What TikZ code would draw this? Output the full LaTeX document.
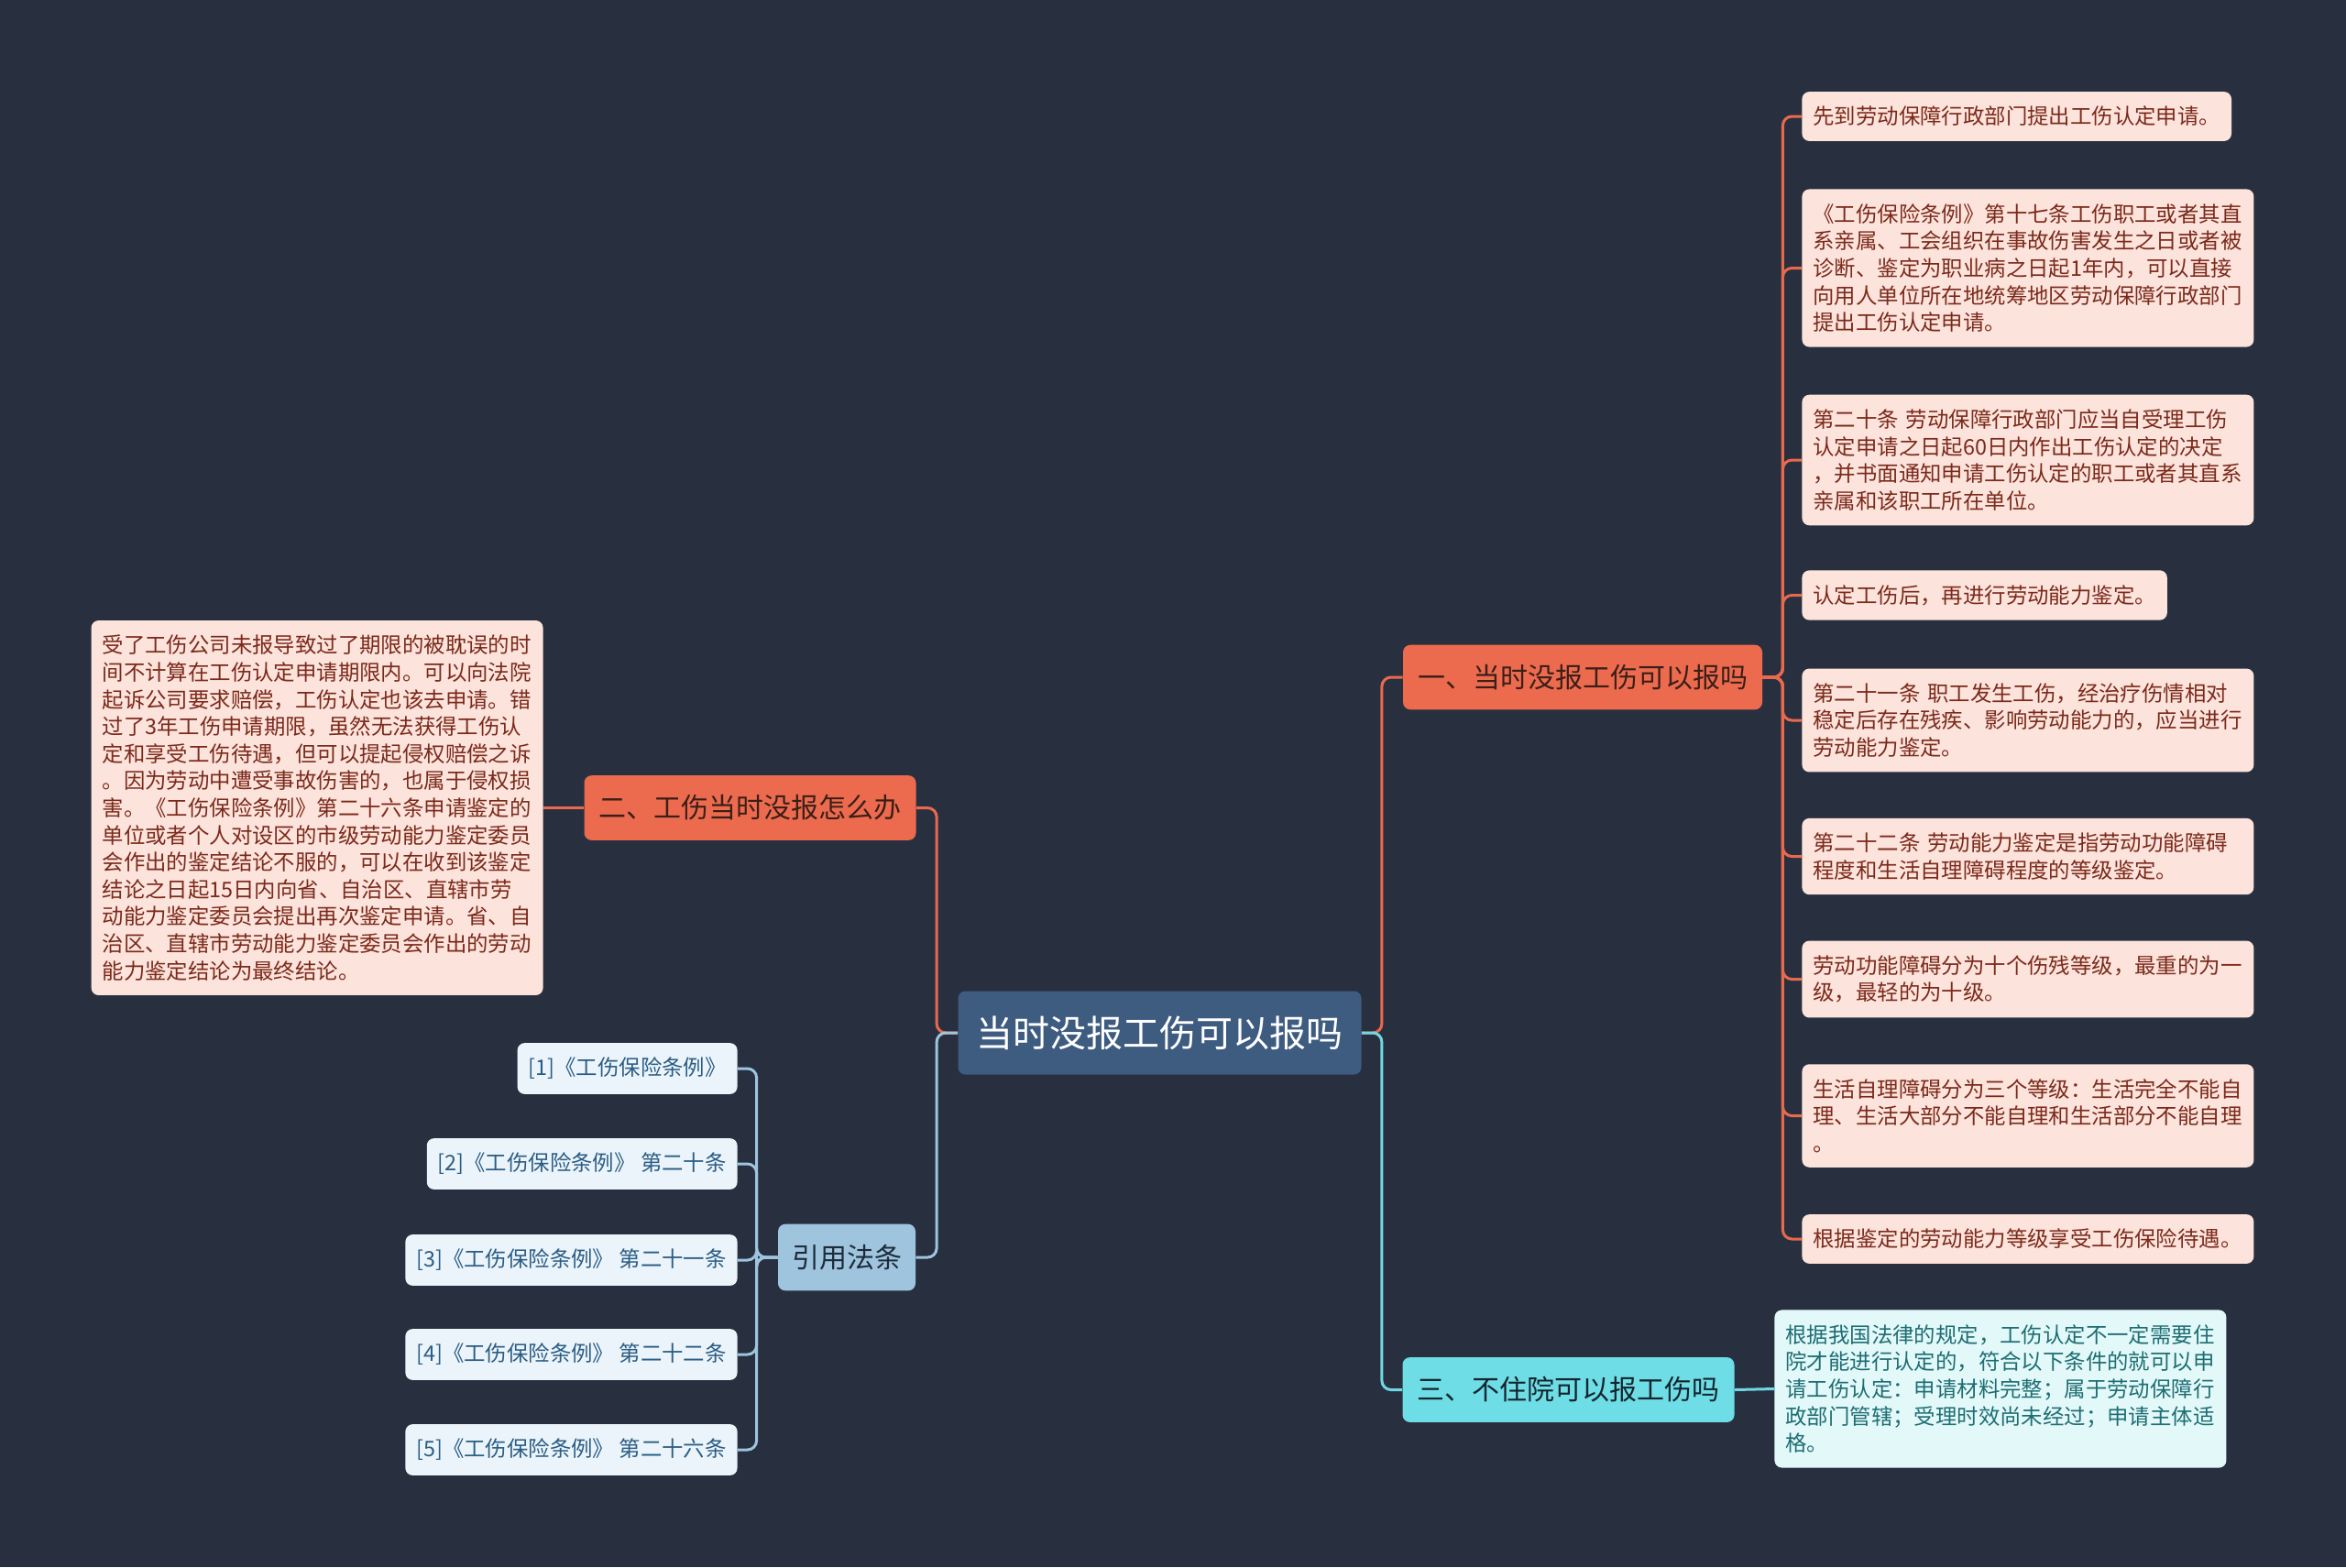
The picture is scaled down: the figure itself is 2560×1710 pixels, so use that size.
\documentclass[tikz,border=0pt]{standalone}
\usepackage{fontspec}
\setmainfont{Noto Sans CJK SC}
\usetikzlibrary{positioning}
\definecolor{bg}{HTML}{283040}
\definecolor{rootfill}{HTML}{3E5B80}
\definecolor{coral}{HTML}{EC6B4F}
\definecolor{coralline}{HTML}{E9694C}
\definecolor{pinkfill}{HTML}{FCE3DB}
\definecolor{pinktext}{HTML}{7B2A1C}
\definecolor{coraltext}{HTML}{3B1F17}
\definecolor{cyanfill}{HTML}{6EDDE6}
\definecolor{cyanline}{HTML}{6FD8E2}
\definecolor{icefill}{HTML}{E3F8F9}
\definecolor{icetext}{HTML}{1D6E73}
\definecolor{cyantext}{HTML}{14252E}
\definecolor{steelfill}{HTML}{9EC4DE}
\definecolor{steeltext}{HTML}{1E2B3A}
\definecolor{reffill}{HTML}{EBF4FA}
\definecolor{reftext}{HTML}{2B5D84}

\begin{document}
\begin{tikzpicture}[x=0.5pt,y=-0.5pt,
  rootbox/.style={fill=rootfill,text=white,rounded corners=4pt,inner xsep=10pt,inner ysep=13.5pt,font=\fontsize{20pt}{24pt}\selectfont},
  mainbox/.style={rounded corners=4pt,inner xsep=8pt,inner ysep=10.7pt,font=\fontsize{15pt}{18pt}\selectfont},
  leafbox/.style={rounded corners=4pt,inner xsep=6pt,inner ysep=8pt,align=left,font=\fontsize{11.7pt}{14.8pt}\selectfont},
  pinkleaf/.style={leafbox,fill=pinkfill,text=pinktext},
  wideleaf/.style={pinkleaf,text width=234.5pt},
  iceleaf/.style={leafbox,fill=icefill,text=icetext,text width=234.5pt},
  refbox/.style={leafbox,fill=reffill,text=reftext},
  link/.style={line width=1.5pt,rounded corners=5pt}]
  \fill[bg] (0,0) rectangle (2560,1710);
  \useasboundingbox (0,0) rectangle (2560,1710);

  \node[rootbox] (root) at (1265.5,1127) {当时没报工伤可以报吗};
  \node[mainbox,fill=coral,text=coraltext] (one) at (1727,739) {一、当时没报工伤可以报吗};
  \node[mainbox,fill=coral,text=coraltext] (two) at (818.5,881.5) {二、工伤当时没报怎么办};
  \node[mainbox,fill=cyanfill,text=cyantext] (three) at (1711.5,1516.5) {三、不住院可以报工伤吗};
  \node[mainbox,fill=steelfill,text=steeltext,inner xsep=7.5pt,inner ysep=11.2pt] (cite) at (924,1372) {引用法条};

  \node[pinkleaf,anchor=west] (a1) at (1966,127) {先到劳动保障行政部门提出工伤认定申请。};
  \node[wideleaf,anchor=west] (a2) at (1966,292.5) {《工伤保险条例》第十七条工伤职工或者其直\\系亲属、工会组织在事故伤害发生之日或者被\\诊断、鉴定为职业病之日起1年内，可以直接\\向用人单位所在地统筹地区劳动保障行政部门\\提出工伤认定申请。};
  \node[wideleaf,anchor=west] (a3) at (1966,502) {第二十条 劳动保障行政部门应当自受理工伤\\认定申请之日起60日内作出工伤认定的决定\\，并书面通知申请工伤认定的职工或者其直系\\亲属和该职工所在单位。};
  \node[pinkleaf,anchor=west] (a4) at (1966,649.5) {认定工伤后，再进行劳动能力鉴定。};
  \node[wideleaf,anchor=west] (a5) at (1966,786) {第二十一条 职工发生工伤，经治疗伤情相对\\稳定后存在残疾、影响劳动能力的，应当进行\\劳动能力鉴定。};
  \node[wideleaf,anchor=west] (a6) at (1966,934.5) {第二十二条 劳动能力鉴定是指劳动功能障碍\\程度和生活自理障碍程度的等级鉴定。};
  \node[wideleaf,anchor=west] (a7) at (1966,1068.5) {劳动功能障碍分为十个伤残等级，最重的为一\\级，最轻的为十级。};
  \node[wideleaf,anchor=west] (a8) at (1966,1217.5) {生活自理障碍分为三个等级：生活完全不能自\\理、生活大部分不能自理和生活部分不能自理\\。};
  \node[wideleaf,anchor=west] (a9) at (1966,1352) {根据鉴定的劳动能力等级享受工伤保险待遇。};

  \node[wideleaf,anchor=east] (b1) at (593,881.5) {受了工伤公司未报导致过了期限的被耽误的时\\间不计算在工伤认定申请期限内。可以向法院\\起诉公司要求赔偿，工伤认定也该去申请。错\\过了3年工伤申请期限，虽然无法获得工伤认\\定和享受工伤待遇，但可以提起侵权赔偿之诉\\。因为劳动中遭受事故伤害的，也属于侵权损\\害。《工伤保险条例》第二十六条申请鉴定的\\单位或者个人对设区的市级劳动能力鉴定委员\\会作出的鉴定结论不服的，可以在收到该鉴定\\结论之日起15日内向省、自治区、直辖市劳\\动能力鉴定委员会提出再次鉴定申请。省、自\\治区、直辖市劳动能力鉴定委员会作出的劳动\\能力鉴定结论为最终结论。};

  \node[iceleaf,anchor=west] (c1) at (1936,1515.5) {根据我国法律的规定，工伤认定不一定需要住\\院才能进行认定的，符合以下条件的就可以申\\请工伤认定：申请材料完整；属于劳动保障行\\政部门管辖；受理时效尚未经过；申请主体适\\格。};

  \node[refbox,anchor=east] (r1) at (805,1166) {[1]《工伤保险条例》};
  \node[refbox,anchor=east] (r2) at (805,1270) {[2]《工伤保险条例》 第二十条};
  \node[refbox,anchor=east] (r3) at (805,1375) {[3]《工伤保险条例》 第二十一条};
  \node[refbox,anchor=east] (r4) at (805,1478) {[4]《工伤保险条例》 第二十二条};
  \node[refbox,anchor=east] (r5) at (805,1582) {[5]《工伤保险条例》 第二十六条};

  % root to main topics
  \draw[link,coralline] (root.east) -- ++(22,0) |- (one.west);
  \draw[link,cyanline] (root.east) -- ++(22,0) |- (three.west);
  \draw[link,coralline] (root.west) -- ++(-23,0) |- (two.east);
  \draw[link,steelfill] (root.west) -- ++(-23,0) |- (cite.east);

  % topic one
  \draw[link,coralline] (one.east) -- ++(22,0) |- (a1.west);
  \draw[link,coralline] (one.east) -- ++(22,0) |- (a2.west);
  \draw[link,coralline] (one.east) -- ++(22,0) |- (a3.west);
  \draw[link,coralline] (one.east) -- ++(22,0) |- (a4.west);
  \draw[link,coralline] (one.east) -- ++(22,0) |- (a5.west);
  \draw[link,coralline] (one.east) -- ++(22,0) |- (a6.west);
  \draw[link,coralline] (one.east) -- ++(22,0) |- (a7.west);
  \draw[link,coralline] (one.east) -- ++(22,0) |- (a8.west);
  \draw[link,coralline] (one.east) -- ++(22,0) |- (a9.west);

  % topics two and three
  \draw[link,coralline] (two.west) -- (b1.east);
  \draw[link,cyanline] (three.east) -- (c1.west);

  % references
  \draw[link,steelfill] (cite.west) -- ++(-23,0) |- (r1.east);
  \draw[link,steelfill] (cite.west) -- ++(-23,0) |- (r2.east);
  \draw[link,steelfill] (cite.west) -- ++(-23,0) |- (r3.east);
  \draw[link,steelfill] (cite.west) -- ++(-23,0) |- (r4.east);
  \draw[link,steelfill] (cite.west) -- ++(-23,0) |- (r5.east);
\end{tikzpicture}
\end{document}
